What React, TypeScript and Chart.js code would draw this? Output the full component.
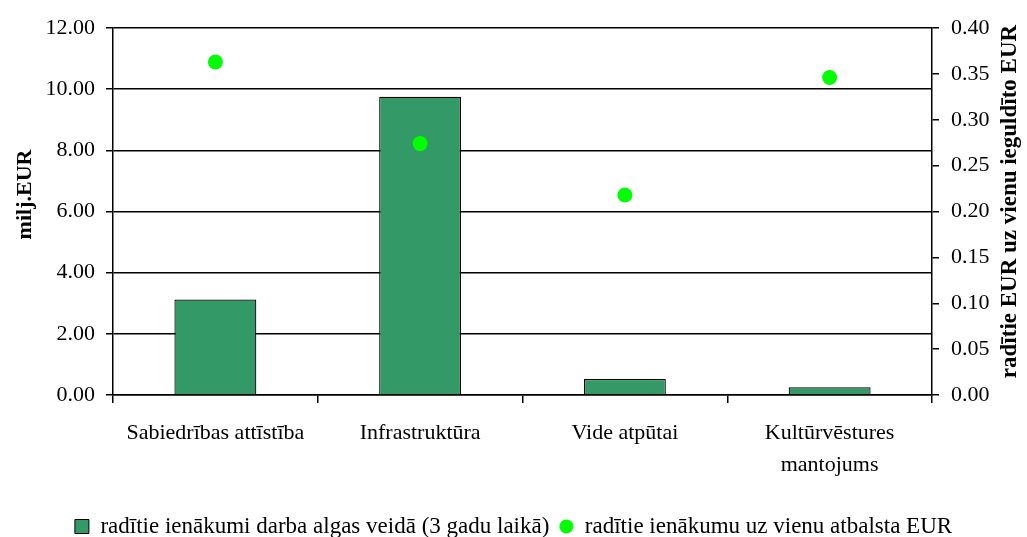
import React, { useEffect, useRef } from "react";
import { Chart, registerables } from "chart.js";

Chart.register(...registerables);

const categories: (string | string[])[] = [
  "Sabiedrības attīstība",
  "Infrastruktūra",
  "Vide atpūtai",
  ["Kultūrvēstures", "mantojums"],
];
const incomeValues = [3.12, 9.75, 0.52, 0.25];
const perEurValues = [0.363, 0.274, 0.218, 0.346];

const seriesIncome = "radītie ienākumi darba algas veidā (3 gadu laikā)";
const seriesPerEur = "radītie ienākumu uz vienu atbalsta EUR";
const leftTitle = "milj.EUR";
const rightTitle = "radītie EUR uz vienu ieguldīto EUR";

const leftTicks = { min: 0, max: 12, step: 2 };
const rightTicks = { min: 0, max: 0.4, step: 0.05 };

const FONT = "'Liberation Serif', 'Times New Roman', serif";

export default function App() {
  const ref = useRef<HTMLCanvasElement | null>(null);

  useEffect(() => {
    document.body.style.margin = "0";
    const canvas = ref.current;
    if (!canvas) return;

    const dot = document.createElement("canvas");
    dot.width = 15;
    dot.height = 15;
    const dctx = dot.getContext("2d")!;
    dctx.fillStyle = "#00FF00";
    dctx.beginPath();
    dctx.arc(7.5, 7.5, 7, 0, Math.PI * 2);
    dctx.fill();

    const titlesPlugin = {
      id: "axisTitles",
      afterDraw(chart: any) {
        const ctx = chart.ctx;
        const area = chart.chartArea;
        const cy = (area.top + area.bottom) / 2;
        ctx.save();
        ctx.fillStyle = "#000";
        ctx.font = `bold 22px ${FONT}`;
        ctx.textAlign = "center";
        ctx.textBaseline = "middle";
        ctx.translate(25, cy - 17);
        ctx.rotate(-Math.PI / 2);
        ctx.fillText(leftTitle, 0, 0);
        ctx.restore();
        ctx.save();
        ctx.fillStyle = "#000";
        ctx.font = `bold 23px ${FONT}`;
        ctx.textAlign = "center";
        ctx.textBaseline = "middle";
        ctx.translate(1010, cy - 10);
        ctx.rotate(-Math.PI / 2);
        ctx.fillText(rightTitle, 0, 0);
        ctx.restore();
      },
    };

    const chart = new Chart(canvas, {
      type: "bar",
      data: {
        labels: categories as any,
        datasets: [
          {
            type: "bar",
            label: seriesIncome,
            data: incomeValues,
            backgroundColor: "#339966",
            borderColor: "#000000",
            borderWidth: 1.2,
            yAxisID: "y",
            categoryPercentage: 1,
            barPercentage: 0.4,
            order: 2,
          },
          {
            type: "line",
            label: seriesPerEur,
            data: perEurValues,
            showLine: false,
            pointRadius: 7.5,
            pointBorderWidth: 0,
            pointBackgroundColor: "#00FF00",
            pointBorderColor: "#00FF00",
            backgroundColor: "#00FF00",
            yAxisID: "y1",
            order: 1,
          } as any,
        ],
      },
      options: {
        responsive: false,
        animation: false,
        devicePixelRatio: 1,
        layout: { padding: { top: 28, left: 0, right: 0, bottom: -11 } },
        font: { family: FONT, size: 22 },
        plugins: {
          tooltip: { enabled: false },
          legend: {
            position: "bottom",
            labels: {
              font: { family: FONT, size: 23 },
              color: "#000",
              padding: 10,
              boxWidth: 14,
              boxHeight: 14,
              usePointStyle: true,
              generateLabels: () => [
                {
                  text: seriesIncome,
                  fillStyle: "#339966",
                  strokeStyle: "#000",
                  lineWidth: 1,
                  pointStyle: "rect",
                  hidden: false,
                  datasetIndex: 0,
                } as any,
                {
                  text: seriesPerEur,
                  fillStyle: "#00FF00",
                  strokeStyle: "#00FF00",
                  lineWidth: 0,
                  pointStyle: dot,
                  hidden: false,
                  datasetIndex: 1,
                } as any,
              ],
            },
          },
        },
        scales: {
          x: {
            offset: true,
            grid: {
              offset: true,
              drawOnChartArea: false,
              drawTicks: true,
              tickLength: 8,
              color: "#000",
              lineWidth: 1.5,
            },
            border: { display: true, color: "#000", width: 1.5 },
            ticks: {
              color: "#000",
              font: { family: FONT, size: 22, lineHeight: 1.45 },
              padding: 14,
              maxRotation: 0,
              autoSkip: false,
            },
            afterFit: (scale: any) => {
              scale.height = 110;
            },
          },
          y: {
            position: "left",
            min: leftTicks.min,
            max: leftTicks.max,
            grid: {
              color: "#000",
              lineWidth: 1.5,
              tickLength: 7,
              drawTicks: true,
            },
            border: { display: true, color: "#000", width: 1.5 },
            ticks: {
              stepSize: leftTicks.step,
              color: "#000",
              font: { family: FONT, size: 22 },
              padding: 11,
              callback: (v: any) => Number(v).toFixed(2),
            },
            afterFit: (scale: any) => {
              scale.width = 113;
            },
          },
          y1: {
            position: "right",
            min: rightTicks.min,
            max: rightTicks.max,
            grid: {
              drawOnChartArea: false,
              color: "#000",
              lineWidth: 1.5,
              tickLength: 7,
              drawTicks: true,
            },
            border: { display: true, color: "#000", width: 1.5 },
            ticks: {
              stepSize: rightTicks.step,
              color: "#000",
              font: { family: FONT, size: 22 },
              padding: 12,
              callback: (v: any) => Number(v).toFixed(2),
            },
            afterFit: (scale: any) => {
              scale.width = 95;
            },
          },
        },
      },
      plugins: [titlesPlugin],
    });

    return () => chart.destroy();
  }, []);

  return (
    <canvas
      ref={ref}
      width={1027}
      height={537}
      style={{ display: "block", width: 1027, height: 537 }}
    />
  );
}
